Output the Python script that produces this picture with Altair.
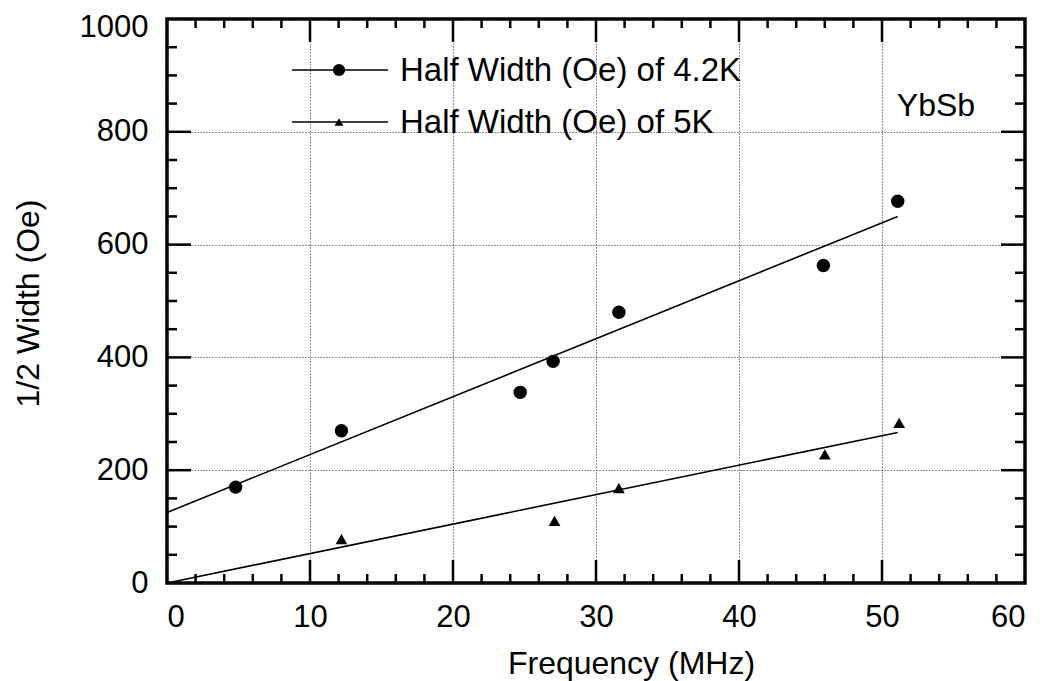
import altair as alt
import pandas as pd

# ---- data ----
freq_42 = [4.8, 12.2, 24.7, 27.0, 31.6, 45.9, 51.1]
hw_42 = [170, 270, 338, 393, 480, 563, 677]
freq_5 = [12.2, 27.1, 31.6, 46.0, 51.2]
hw_5 = [78, 110, 168, 228, 284]
fit_42_x = [0, 51.1]
fit_42_y = [125, 650]
fit_5_x = [0, 51.1]
fit_5_y = [0, 267]
legend_labels = ["Half Width (Oe) of 4.2K", "Half Width (Oe) of 5K"]
sample_label = ["YbSb"]
x_major = [10, 20, 30, 40, 50]
x_minor = [2, 4, 6, 8, 12, 14, 16, 18, 22, 24, 26, 28, 32, 34, 36, 38, 42, 44, 46, 48, 52, 54, 56, 58]
y_major = [200, 400, 600, 800]
y_minor = [50, 100, 150, 250, 300, 350, 450, 500, 550, 650, 700, 750, 850, 900, 950]
x_labels = [0, 10, 20, 30, 40, 50, 60]
y_labels = [0, 200, 400, 600, 800, 1000]

W, H = 858, 564
FONT = "Liberation Sans"

xs = alt.Scale(domain=[0, 60], nice=False)
ys = alt.Scale(domain=[0, 1000], nice=False)

df42 = pd.DataFrame({"f": freq_42, "w": hw_42})
df5 = pd.DataFrame({"f": freq_5, "w": hw_5})
dfit42 = pd.DataFrame({"f": fit_42_x, "w": fit_42_y})
dfit5 = pd.DataFrame({"f": fit_5_x, "w": fit_5_y})

xaxis = alt.Axis(values=x_labels, format="d", ticks=False, domain=False, grid=True,
                 gridDash=[1, 2], gridColor="#222", gridWidth=1, gridOpacity=1,
                 labelFontSize=31, labelFont=FONT, labelColor="black", labelPadding=19,
                 title="Frequency (MHz)", titleFontSize=32, titleFont=FONT,
                 titleFontWeight="normal", titleColor="black",
                 titleX=464, titleY=90, titleBaseline="alphabetic")
yaxis = alt.Axis(values=y_labels, format="d", ticks=False, domain=False, grid=True,
                 gridDash=[1, 2], gridColor="#222", gridWidth=1, gridOpacity=1,
                 labelFontSize=31, labelFont=FONT, labelColor="black", labelPadding=19,
                 labelOffset={"condition": {"test": "datum.value == 1000", "value": 8}, "value": 0},
                 title="1/2 Width (Oe)", titleFontSize=32, titleFont=FONT,
                 titleFontWeight="normal", titleColor="black",
                 titleX=-139, titleY=284, titleAngle=270, titleBaseline="middle",
                 titleAlign="center")

base_pts = alt.Chart(df42).mark_point(filled=True, shape="circle", size=180,
                                       color="black", opacity=1).encode(
    x=alt.X("f:Q", scale=xs, axis=xaxis),
    y=alt.Y("w:Q", scale=ys, axis=yaxis),
)
tri_pts = alt.Chart(df5).mark_point(filled=True, shape="triangle-up", size=140,
                                     color="black", opacity=1).encode(
    x=alt.X("f:Q", scale=xs), y=alt.Y("w:Q", scale=ys))
line42 = alt.Chart(dfit42).mark_line(color="black", strokeWidth=1.6).encode(
    x=alt.X("f:Q", scale=xs), y=alt.Y("w:Q", scale=ys))
line5 = alt.Chart(dfit5).mark_line(color="black", strokeWidth=1.6).encode(
    x=alt.X("f:Q", scale=xs), y=alt.Y("w:Q", scale=ys))


def xticks(vals, length, top):
    d = pd.DataFrame({"t": vals})
    if top:
        y0, y1 = 0, length
    else:
        y0, y1 = H, H - length
    return alt.Chart(d).mark_rule(color="black", strokeWidth=2.5).encode(
        x=alt.X("t:Q", scale=xs), y=alt.value(y0), y2=alt.value(y1))


def yticks(vals, length, right):
    d = pd.DataFrame({"t": vals})
    if right:
        x0, x1 = W, W - length
    else:
        x0, x1 = 0, length
    return alt.Chart(d).mark_rule(color="black", strokeWidth=2.5).encode(
        y=alt.Y("t:Q", scale=ys), x=alt.value(x0), x2=alt.value(x1))


ticks = [
    xticks(x_major, 23, False), xticks(x_minor, 9, False),
    xticks(x_major, 23, True), xticks(x_minor, 9, True),
    yticks(y_major, 24, False), yticks(y_minor, 10, False),
    yticks(y_major, 24, True), yticks(y_minor, 10, True),
]

# legend
leg1 = pd.DataFrame({"label": [legend_labels[0]]})
leg2 = pd.DataFrame({"label": [legend_labels[1]]})
legend_layers = []
for d, yy, shape, sz in [(leg1, 51, "circle", 150), (leg2, 103, "triangle-up", 80)]:
    legend_layers.append(alt.Chart(d).mark_rule(color="black", strokeWidth=1.5).encode(
        x=alt.value(125), x2=alt.value(221), y=alt.value(yy)))
    legend_layers.append(alt.Chart(d).mark_point(filled=True, shape=shape, size=sz,
                                                 color="black", opacity=1).encode(
        x=alt.value(172), y=alt.value(yy)))
    legend_layers.append(alt.Chart(d).mark_text(align="left", baseline="middle",
                                                fontSize=33, font=FONT, color="black").encode(
        x=alt.value(233), y=alt.value(yy + 1), text="label:N"))

sample = alt.Chart(pd.DataFrame({"label": sample_label})).mark_text(
    align="center", baseline="middle", fontSize=32, font=FONT, color="black").encode(
    x=alt.value(769), y=alt.value(87), text="label:N")

chart = alt.layer(
    base_pts, line42, line5, tri_pts, *ticks, *legend_layers, sample
).properties(
    width=W, height=H,
    autosize=alt.AutoSizeParams(type="none"),
    padding={"left": 159, "top": 11, "right": 16, "bottom": 98},
).configure(
    background="white",
    view=alt.ViewConfig(stroke="black", strokeWidth=3.5),
)

chart.save("out.html", embed_options={"renderer": "svg", "actions": False})
